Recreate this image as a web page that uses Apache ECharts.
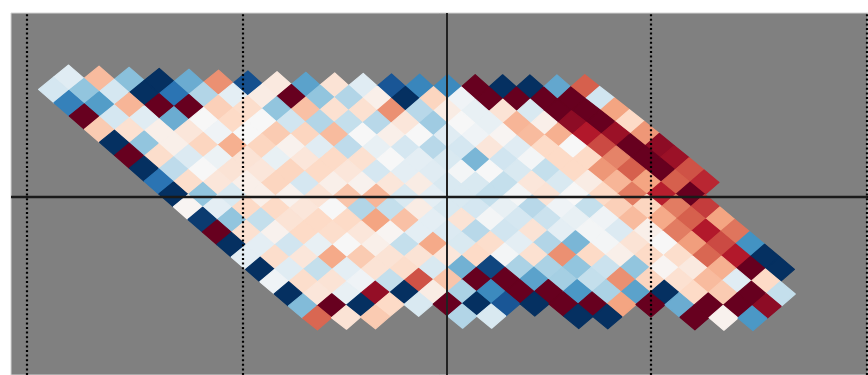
<!DOCTYPE html>
<html><head><meta charset="utf-8">
<style>html,body{margin:0;padding:0;background:#fff}#c{width:868px;height:375px;filter:blur(0.6px)}</style>
<script src="https://cdn.jsdelivr.net/npm/echarts@6/dist/echarts.min.js"></script>
</head><body><div id="c"></div>
<script>
var n=null;
var rowM1=[-0.6,1.6,-2.1,-5,-2.5,2.3,-4.4,0.5,-2.7,0.7,-0.6,-4.3,-3.3,-3.2,5,-5,-5,-2.6,3];
var row0=[-0.9,-2,-0.9,-5,-3.7,-1.5,-0.5,0.4,5,-2,-1.5,0.3,-5,1.1,-0.2,5,5,5,5,-1];
var row1=[-3.4,-2.8,1.7,5,5,1.2,0.9,-2,1.5,0.8,0.8,2.3,-1.4,0.4,-0.4,0.7,-0.8,5,5,2];
var row2=[5,-0.9,-0.6,-2.5,0,1,0,-1,-1.5,-1.2,-1.4,0.6,-1.8,0,-0.4,1.7,0.3,4.5,5,1];
var row3=[1.3,0.8,0.3,0.6,-0.2,0,1.3,1.1,1.6,0,0.3,0,-0.6,-0.2,0.1,1.6,1.8,4,4.3,2.2];
var row4=[-5,-2,0.3,1.1,1.8,1.1,0.2,-0.6,-1.3,-0.4,-0.9,-1.4,-0.9,0.6,-0.6,1,0,3.3,5,4.5];
var row5=[5,0.9,-0.7,-0.3,0.7,-0.4,0.6,1,0.8,0,-0.5,-0.8,-2.3,-1,-0.1,1,1,2.5,5,4.3];
var row6=[-5,-1.3,0,0.7,0.6,1.1,1,0.6,-0.9,-0.5,-0.6,-0.1,0,-0.8,-1.2,1,2.2,3,5,3.2];
var row7=[-3.7,0.9,0.6,0.3,1.1,-0.9,0.3,0.2,0.6,0.4,-0.8,-0.8,-1.2,0.6,-0.8,0.4,1.7,2,3,3.8];
var row8=[-5,-2,-0.8,0.3,0.2,0.7,1.4,1.7,-0.8,-0.5,-0.8,-1.2,-0.1,0.7,0,1,2.6,3.9,5];
var row9=[0.1,-0.5,1,1,0.6,0,-1.5,-1.2,0.4,-0.8,-0.9,-0.4,-1.4,-0.2,-1.2,1.2,1.1,2.6,3.5];
var row10=[-4.8,-2,-1.2,0.7,1,1,2,1.5,-0.5,0.7,-0.1,-0.9,-1.1,-0.4,-0.2,1.6,1.9,3,2];
var row11=[5,0.8,0.2,1,0.9,0.6,0.1,-0.5,-0.7,-1.4,-1,0.7,-0.5,-0.1,-0.7,0.3,2.6,4,2.7];
var row12=[-5,-0.5,-1,-0.4,0,0.3,-1.2,1.9,-0.8,0.9,-0.5,-1.5,-2.3,-0.1,0.7,0,2.1,3.3,-3];
var row13=[-0.5,0.9,0.6,1.9,1.3,0.7,0.7,0.6,1,-0.1,0.8,2.3,1,0.3,1,0.9,2.9,4,-5];
var row14=[-5,-0.6,-1.2,-0.5,0.7,0.9,-0.8,-2.4,-4.6,-1.6,-1.6,-2,-1.1,-2,0.1,0.5,1.8,5,-5];
var row15=[-0.2,0.9,0.7,-0.2,-1.2,3.2,1.4,5,5,-2.7,-1.7,-1.2,2.3,1.1,0.8,1.6,-0.6,1];
var row16=[-5,0.6,-0.4,4.4,-5,0.4,-1.6,-3.2,5,5,-2.9,-1.6,-2.7,-5,1,1.3,5,-1.2];
var row17=[-2.2,5,-5,1,-0.8,5,-5,-4.3,-5,5,5,2,5,-2.5,5,5,4.5];
var row18=[2.9,0.7,1.3,n,n,-1.5,-0.8,n,n,-5,-5,n,n,5,0.2,-2.9];
var rows=[rowM1,row0,row1,row2,row3,row4,row5,row6,row7,row8,row9,row10,row11,row12,row13,row14,row15,row16,row17,row18];
var rowStart=[1,0,1,2,3,4,5,6,7,8,9,10,11,12,13,14,15,16,17,18];
var rdbu=['#053061','#2166ac','#4393c3','#92c5de','#d1e5f0','#f7f7f7','#fddbc7','#f4a582','#d6604d','#b2182b','#67001f'];
var xTicksDotted=[-2.065,-1,1,2.06];

// diagonal lattice of the measurement: column s, row r -> data coordinates
function lattice(s,r){
  var p=(s+r)/2;
  var B=Math.max(0,1-Math.pow((s-17)/19,2)), T=Math.max(0,1-(r+1)/19);
  var dx=0.0441*B*T+(p>18?0.001*(p-18):0);
  var dy=p<18?0.0147*4*(p/18)*(1-p/18):-0.0392*(1-Math.exp(-(p-18)/6));
  return [-1.936+0.07066*s+0.0015*r+dx, 0.5245-0.001225*s-0.06088*r-dy];
}
var cells=[];
rows.forEach(function(vals,i){
  var r=i-1;
  vals.forEach(function(v,j){
    if(v===null)return;
    var s=rowStart[i]+2*j, c=lattice(s,r);
    cells.push([c[0],c[1],v,s,r]);
  });
});
var chart=echarts.init(document.getElementById('c'),null,{renderer:'canvas'});
chart.setOption({
  animation:false,
  grid:{left:11,top:13,right:0,bottom:0,show:true,backgroundColor:'#808080',borderColor:'#d4d4d4',borderWidth:1},
  xAxis:{type:'value',min:-2.1373,max:2.0637,show:false},
  yAxis:{type:'value',min:-0.8725,max:0.902,show:false},
  visualMap:{show:false,min:-5,max:5,dimension:2,seriesIndex:0,inRange:{color:rdbu}},
  series:[{
    type:'custom',coordinateSystem:'cartesian2d',
    encode:{x:0,y:1},
    data:cells,
    z:2,
    renderItem:function(params,api){
      var s=api.value(3), r=api.value(4);
      var pts=[lattice(s-1,r),lattice(s,r-1),lattice(s+1,r),lattice(s,r+1)].map(function(d){return api.coord(d);});
      var col=api.visual('color');
      return {type:'polygon',shape:{points:pts},style:{fill:col,stroke:col,lineWidth:1.2,lineJoin:'round'}};
    },
    markLine:{
      silent:true,symbol:'none',z:5,animation:false,label:{show:false},
      data:xTicksDotted.map(function(x){return {xAxis:x,lineStyle:{color:'#000',width:2.2,type:[2,2.6]}};})
        .concat([{xAxis:0,lineStyle:{color:'#222',width:2,type:'solid'}},{yAxis:0,lineStyle:{color:'#1a1a1a',width:2.4,type:'solid'}}])
    }
  }]
});
</script></body></html>
